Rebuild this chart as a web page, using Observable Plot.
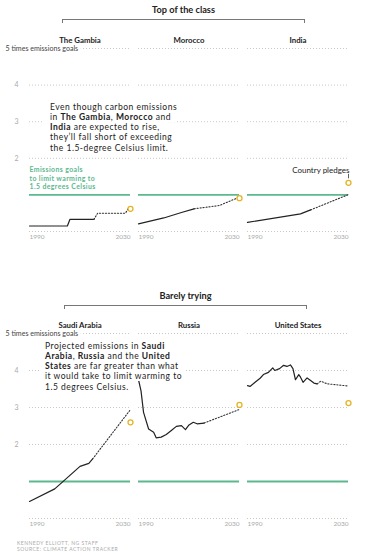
<!DOCTYPE html>
<html><head><meta charset="utf-8">
<script src="https://cdn.jsdelivr.net/npm/d3@7"></script>
<script src="https://cdn.jsdelivr.net/npm/@observablehq/plot@0.6"></script>
<style>
body{margin:0;background:#fff;font-family:Lato, "Noto Sans", sans-serif;}
#wrap{position:relative;width:371px;height:556px;overflow:hidden;background:#fff;}
.title{position:absolute;font-weight:700;font-size:9.2px;line-height:11px;color:#222;text-align:center;}
.bracket{position:absolute;box-sizing:border-box;border:1px solid #777;border-bottom:none;height:4px;}
.note{position:absolute;font-size:8.5px;line-height:10.25px;letter-spacing:0.5px;color:#222;white-space:nowrap;}
.note span{background:#fff;padding:0 6px;-webkit-box-decoration-break:clone;box-decoration-break:clone;}
.foot{position:absolute;left:17px;font-size:5px;line-height:6px;letter-spacing:0.5px;color:#aaa;}
</style></head>
<body><div id="wrap"></div>
<script>
// ---- categories ----
const topCountries = ["The Gambia", "Morocco", "India"];
const bottomCountries = ["Saudi Arabia", "Russia", "United States"];
// ---- reference values (multiples of the 1.5°C emissions goal) ----
const goalValue = 1;
const gridValues = [0, 2, 3, 4, 5];
const yTickValues = [2, 3, 4];
const yearTicks = [1990, 2030];
const pledgeYear = 2030;
// ---- historical (solid) and projected (dotted) series: [year, multiple of goal] ----
const gambiaHistory = [[1990,0.15],[2005,0.15],[2006,0.33],[2015.5,0.33]];
const gambiaProjection = [[2015.5,0.33],[2017,0.5],[2028,0.5],[2029.3,0.65]];
const moroccoHistory = [[1990,0.21],[2000,0.37],[2007,0.52],[2012,0.62]];
const moroccoProjection = [[2012,0.62],[2022,0.71],[2029.3,0.92]];
const indiaHistory = [[1990,0.25],[2011,0.48],[2015,0.59]];
const indiaProjection = [[2015,0.59],[2030,1.01]];
const saudiHistory = [[1990,0.46],[2000,0.8],[2010,1.41],[2013.5,1.49],[2015,1.61]];
const saudiProjection = [[2015,1.61],[2029.7,2.92]];
const russiaHistory = [[1990,3.75],[1991,3.45],[1992,2.87],[1994,2.42],[1996,2.33],[1997,2.18],[1999,2.2],[2001,2.27],[2003,2.38],[2005,2.49],[2007,2.51],[2008.6,2.4],[2010,2.53],[2011.7,2.6],[2013.2,2.56],[2016,2.58]];
const russiaProjection = [[2016,2.58],[2029.7,2.94]];
const usHistory = [[1990,3.59],[1991,3.57],[1993,3.68],[1995,3.79],[1996.3,3.89],[1998.3,3.95],[2000,4.07],[2000.8,4.0],[2002.7,4.05],[2004.3,4.14],[2005.6,4.11],[2007,4.15],[2008,4.05],[2009,3.75],[2010.3,3.89],[2011,3.82],[2012,3.68],[2013.6,3.8],[2015,3.73],[2016.3,3.66],[2017.6,3.64]];
const usProjection = [[2017.6,3.64],[2019,3.71],[2021.6,3.64],[2030,3.58]];
// ---- country pledges for 2030 ----
const topPledges = [0.62, 0.91, 1.33];
const bottomPledges = [2.6, 3.07, 3.12];

const green = "#5db88f";
const gold = "#e6b325";
const wrap = document.getElementById("wrap");

function toRows(countries, series) {
  return countries.flatMap((c, i) => series[i].map(([year, value]) => ({country: c, year, value})));
}

function panel(countries, histories, projections, pledges, top, height, extra) {
  const hist = toRows(countries, histories);
  const proj = toRows(countries, projections);
  const pl = countries.map((c, i) => ({country: c, year: pledgeYear, value: pledges[i]}));
  const chart = Plot.plot({
    width: 371, height,
    marginLeft: 29, marginRight: 22, marginTop: 20, marginBottom: 17,
    style: {fontFamily: "Lato, 'Noto Sans', sans-serif", background: "transparent", overflow: "visible"},
    fx: {domain: countries, paddingInner: 0.073, paddingOuter: 0, axis: null, label: null},
    x: {domain: [yearTicks[0], yearTicks[1]], axis: null},
    y: {domain: [0, 5]},
    marks: [
      Plot.ruleY(gridValues, {y: d => d, stroke: "#bbb", strokeWidth: 0.8, strokeDasharray: "1,2"}),
      Plot.ruleY([goalValue], {y: d => d, stroke: green, strokeWidth: 1.8}),
      Plot.axisY(yTickValues, {tickSize: 0, tickPadding: 11, fill: "#aaa", fontSize: 7, label: null}),
      Plot.text([countries[0]], {fx: d => d, x: () => yearTicks[0], y: () => 5, dx: -24, text: () => "5 times emissions goals",
        textAnchor: "start", fill: "#444", fontSize: 7.1, stroke: "white", strokeWidth: 6}),
      Plot.line(hist, {x: "year", y: "value", fx: "country", stroke: "#222", strokeWidth: 1.2}),
      Plot.line(proj, {x: "year", y: "value", fx: "country", stroke: "#333", strokeWidth: 1.1, strokeDasharray: "1.2,1.8"}),
      Plot.dot(pl, {x: "year", y: "value", fx: "country", r: 2.5, stroke: gold, strokeWidth: 1.3, fill: "white"}),
      Plot.text(countries, {fx: d => d, text: d => d, frameAnchor: "top", dy: -11, fontWeight: 700, fontSize: 7.8, fill: "#222"}),
      Plot.text([yearTicks[0]], {x: d => d, frameAnchor: "bottom", dy: 7, text: d => String(d), textAnchor: "start", fill: "#aaa", fontSize: 6.5}),
      Plot.text([yearTicks[1]], {x: d => d, frameAnchor: "bottom", dy: 7, text: d => String(d), textAnchor: "end", fill: "#aaa", fontSize: 6.5}),
      ...extra(pl)
    ]
  });
  chart.style.position = "absolute";
  chart.style.left = "0px";
  chart.style.top = top + "px";
  // slightly widen the green legend lettering, as in the reference
  chart.querySelectorAll("text").forEach(t => {
    if (t.textContent.includes("warming")) t.setAttribute("letter-spacing", "0.4");
  });
  wrap.appendChild(chart);
}

function addDiv(cls, css, html) {
  const d = document.createElement("div");
  d.className = cls;
  Object.assign(d.style, css);
  d.innerHTML = html;
  wrap.appendChild(d);
}

// Top section
addDiv("title", {left: "62px", width: "243px", top: "3.5px"}, "Top of the class");
addDiv("bracket", {left: "62px", width: "243px", top: "19px"}, "");
panel(topCountries, [gambiaHistory, moroccoHistory, indiaHistory], [gambiaProjection, moroccoProjection, indiaProjection],
  topPledges, 28, 220, (pl) => [
    Plot.text([topCountries[0]], {fx: d => d, x: () => yearTicks[0], y: () => goalValue,
      text: () => "Emissions goals\nto limit warming to\n1.5 degrees Celsius",
      textAnchor: "start", lineAnchor: "bottom", dy: -6, lineHeight: 1.2, fill: green, fontWeight: 700, fontSize: 6.9}),
    Plot.text([pl[2]], {fx: "country", x: "year", y: "value", dy: -12, dx: 1, text: () => "Country pledges",
      textAnchor: "end", fill: "#222", fontSize: 8}),
    Plot.ruleX([pl[2]], {fx: "country", x: "year", y1: "value", y2: "value", insetBottom: 4, insetTop: -8.5, stroke: "#333", strokeWidth: 0.8})
  ]);
addDiv("note", {left: "44px", top: "101.6px"},
  "<span>Even though carbon emissions</span><br><span>in <b>The Gambia</b>, <b>Morocco</b> and</span><br><span><b>India</b> are expected to rise,</span><br><span>they’ll fall short of exceeding</span><br><span>the 1.5-degree Celsius limit.</span>");

// Bottom section
addDiv("title", {left: "64px", width: "243px", top: "289.5px"}, "Barely trying");
addDiv("bracket", {left: "64px", width: "243px", top: "305px"}, "");
panel(bottomCountries, [saudiHistory, russiaHistory, usHistory], [saudiProjection, russiaProjection, usProjection],
  bottomPledges, 313, 222, () => []);
addDiv("note", {left: "39px", top: "340.6px", lineHeight: "10.3px"},
  "<span>Projected emissions in <b>Saudi</b></span><br><span><b>Arabia</b>, <b>Russia</b> and the <b>United</b></span><br><span><b>States</b> are far greater than what</span><br><span>it would take to limit warming to</span><br><span>1.5 degrees Celsius.</span>");

addDiv("foot", {top: "539.5px"}, "KENNEDY ELLIOTT, NG STAFF<br>SOURCE: CLIMATE ACTION TRACKER");
</script>
</body></html>
